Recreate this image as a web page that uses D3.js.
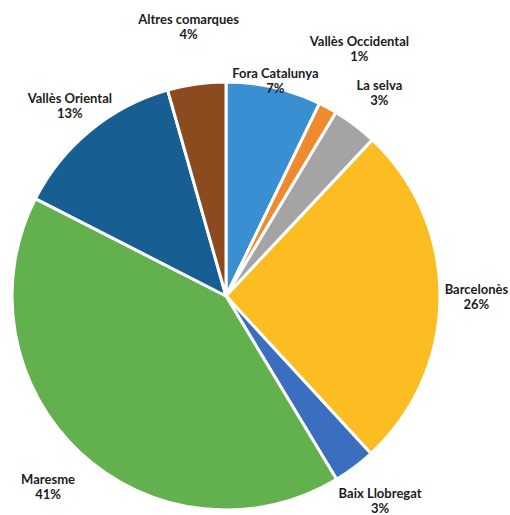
<!DOCTYPE html>
<html><head><meta charset="utf-8">
<script src="https://cdn.jsdelivr.net/npm/d3@7"></script>
<style>html,body{margin:0;padding:0;background:#fff;}</style>
</head><body>
<svg id="chart" width="510" height="515"></svg>
<script>
// Data (clockwise from 12 o'clock)
const categories = ["Fora Catalunya","Vallès Occidental","La selva","Barcelonès","Baix Llobregat","Maresme","Vallès Oriental","Altres comarques"];
const values = [7.2, 1.4, 3.4, 26.2, 3.2, 41.2, 13.1, 4.4];
const pctLabels = ["7%","1%","3%","26%","3%","41%","13%","4%"];
const colors = ["#3a8fd3","#f08a2e","#a4a4a4","#fcbd22","#3a6fbf","#63b04e","#175f93","#8c4a1f"];
// layout: label distance from centre, relative to radius
const labelDist = [1.03, 1.31, 1.19, 1.17, 1.2, 1.22, 1.15, 1.27];

const svg = d3.select("#chart");
const cx = 226, cy = 296, R = 214;
const g = svg.append("g").attr("transform", `translate(${cx},${cy})`);

const pie = d3.pie().sort(null).value(d => d);
const arcs = pie(values);
const arc = d3.arc().innerRadius(0).outerRadius(R);

g.selectAll("path.slice").data(arcs).enter().append("path")
  .attr("class","slice")
  .attr("d", arc)
  .attr("fill", (d,i) => colors[i])
  .attr("stroke", "#fff")
  .attr("stroke-width", 3)
  .attr("stroke-linejoin","round");

const lbl = g.selectAll("g.lbl").data(arcs).enter().append("g").attr("class","lbl")
  .attr("transform", (d,i) => {
    const a = (d.startAngle + d.endAngle)/2;
    const r = R * labelDist[i];
    return `translate(${Math.sin(a)*r},${-Math.cos(a)*r})`;
  });
lbl.append("text")
  .attr("text-anchor","middle")
  .attr("font-family","Lato, 'Open Sans', sans-serif")
  .attr("font-weight","bold")
  .attr("font-size",13)
  .attr("fill","#1c1c1c")
  .each(function(d,i){
    const t = d3.select(this);
    t.append("tspan").attr("x",0).attr("y",-3).text(categories[i]);
    t.append("tspan").attr("x",0).attr("y",12).text(pctLabels[i]);
  });
</script>
</body></html>
